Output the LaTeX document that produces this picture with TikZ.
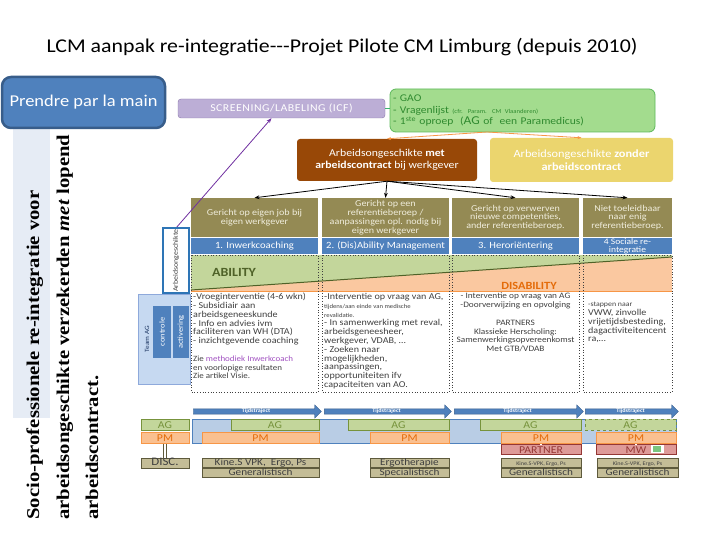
\documentclass[tikz,border=0pt]{standalone}
\usepackage{fontspec}
\setmainfont[FakeStretch=1.12]{Carlito}
\newfontfamily\timesfont[FakeStretch=1.15]{Liberation Serif}
\usetikzlibrary{arrows.meta,shapes.arrows}
\definecolor{blauw}{HTML}{4F81BD}
\definecolor{donkerblauw}{HTML}{385D8A}
\definecolor{lichtblauw}{HTML}{B9CDE5}
\definecolor{bandblauw}{HTML}{E6ECF5}
\definecolor{teamfill}{HTML}{C6D9F1}
\definecolor{teamrand}{HTML}{8EA9DB}
\definecolor{teamtekst}{HTML}{1F3864}
\definecolor{olijf}{HTML}{948A54}
\definecolor{olijftekst}{HTML}{F0EDDC}
\definecolor{bruin}{HTML}{984807}
\definecolor{geel}{HTML}{EBD56E}
\definecolor{lila}{HTML}{BCAED6}
\definecolor{lilarand}{HTML}{8A76AA}
\definecolor{gaofill}{HTML}{A3DC8E}
\definecolor{gaorand}{HTML}{5DB85A}
\definecolor{gaotekst}{HTML}{2F8A2F}
\definecolor{groenlijn}{HTML}{3CB371}
\definecolor{oranjepijl}{HTML}{F79646}
\definecolor{abilgroen}{HTML}{C3D69B}
\definecolor{abiloranje}{HTML}{FAC8A0}
\definecolor{abillijn}{HTML}{4F6228}
\definecolor{disabtekst}{HTML}{E46C0A}
\definecolor{agfill}{HTML}{C3D69B}
\definecolor{agrand}{HTML}{77933C}
\definecolor{pmfill}{HTML}{FAC090}
\definecolor{pmrand}{HTML}{F79646}
\definecolor{partnerfill}{HTML}{DE9A98}
\definecolor{partnerrand}{HTML}{953735}
\definecolor{tanfill}{HTML}{C4BD97}
\definecolor{tanrand}{HTML}{5E5A3C}
\definecolor{tantekst}{HTML}{3F3F3F}
\definecolor{tekst}{HTML}{404040}
\definecolor{paars}{HTML}{7030A0}
\definecolor{paarstekst}{HTML}{A050C0}
\definecolor{arbrand}{HTML}{2E75B6}
\definecolor{hoofdrand}{HTML}{385D8A}
\definecolor{icoongroen}{HTML}{7BC47F}
\begin{document}
\begin{tikzpicture}[x=1pt,y=-1pt,
  every node/.style={inner sep=0pt},
  doel/.style={fill=olijf, text=olijftekst, minimum height=39pt, align=center, font=\fontsize{9}{8.8}\selectfont},
  fase/.style={fill=blauw, text=white, minimum height=16pt, align=center, font=\fontsize{9.5}{9.5}\selectfont},
  kolom/.style={align=left, text=tekst, font=\fontsize{9}{8.8}\selectfont},
  kader/.style={dotted, draw=tekst, line width=0.7pt},
  tijd/.style={single arrow, single arrow head extend=4pt, single arrow head indent=0pt, minimum width=8pt, fill=blauw, draw=donkerblauw, line width=0.4pt, text=white, font=\fontsize{5.5}{5.5}\selectfont\bfseries},
  ag/.style={fill=agfill, draw=agrand, text=agrand, minimum height=11pt, line width=1pt, text height=7pt, text depth=0pt, font=\fontsize{10.5}{10.5}\selectfont},
  pm/.style={fill=pmfill, draw=pmrand, text=disabtekst, minimum height=11pt, line width=1pt, text height=7pt, text depth=0pt, font=\fontsize{10.5}{10.5}\selectfont},
  partner/.style={fill=partnerfill, draw=partnerrand, text=partnerrand, minimum height=10pt, line width=1pt, text height=7pt, text depth=0pt, font=\fontsize{10.5}{10.5}\selectfont},
  dienst/.style={fill=tanfill, draw=tanrand, text=tantekst, minimum height=9pt, line width=0.8pt, text height=6.5pt, text depth=1pt, font=\fontsize{10}{10}\selectfont},
]
\useasboundingbox (0,0) rectangle (720,540);

% titel
\node[font=\fontsize{19.5}{19.5}\selectfont] (titel) at (342,47) {LCM aanpak re-integratie-{}-{}-Projet Pilote CM Limburg (depuis 2010)};

% linkerkant
\fill[bandblauw] (13,129) rectangle (50,418);
\node[draw=hoofdrand, line width=2.5pt, fill=blauw, rounded corners=9pt, minimum width=163pt, minimum height=51pt, text=white, font=\fontsize{16.5}{16.5}\selectfont] (hand) at (83.5,102.5) {Prendre par la main};
\node[rotate=90, anchor=base west, font=\timesfont\fontsize{18}{18}\selectfont\bfseries] (socio1) at (39,520) {Socio-professionele re-integratie voor};
\node[rotate=90, anchor=base west, font=\timesfont\fontsize{18}{18}\selectfont\bfseries] (socio2) at (69,520) {arbeidsongeschikte verzekerden \textit{met} lopend};
\node[rotate=90, anchor=base west, font=\timesfont\fontsize{18}{18}\selectfont\bfseries] (socio3) at (98,520) {arbeidscontract.};

% screening en GAO
\node[draw=lilarand, fill=lila, rounded corners=3pt, minimum width=207pt, minimum height=19pt, text=white, font=\fontsize{10.5}{10.5}\selectfont\addfontfeature{LetterSpace=5}] (screen) at (281.5,108.5) {SCREENING/LABELING (ICF)};
\node[draw=gaorand, fill=gaofill, line width=0.8pt, rounded corners=6pt, minimum width=265pt, minimum height=43pt, text width=259pt, align=left, text=gaotekst, font=\fontsize{10.3}{11.8}\selectfont] (gao) at (522.5,110.5) {- GAO\\- Vragenlijst {\fontsize{6}{11.8}\selectfont(cfr. Param. CM Vlaanderen)}\\- 1\textsuperscript{ste} oproep\ \ ({\fontsize{12}{11.8}\selectfont AG} of\ \ een Paramedicus)};
\draw[groenlijn, line width=1.5pt] (screen.east) -- (screen.east -| gao.west);

% met / zonder contract
\node[fill=bruin, rounded corners=3pt, minimum width=180pt, minimum height=42pt, text=white, align=center, font=\fontsize{10.5}{12.5}\selectfont] (met) at (387,160) {Arbeidsongeschikte \textbf{met}\\\textbf{arbeidscontract} bij werkgever};
\node[fill=geel, rounded corners=3pt, minimum width=183pt, minimum height=44pt, text=white, align=center, font=\fontsize{11}{12.5}\selectfont] (zonder) at (581.5,160) {Arbeidsongeschikte \textbf{zonder}\\\textbf{arbeidscontract}};
\coordinate (splits) at (487,132);
\draw[oranjepijl, line width=0.8pt, -{Stealth[length=4pt]}] (splits) -- (met.north);
\draw[oranjepijl, line width=0.8pt, -{Stealth[length=4pt]}] (splits) -- (zonder.north);

% doelen
\node[doel, minimum width=127pt] (d1) at (254.5,217.5) {Gericht op eigen job bij\\eigen werkgever};
\node[doel, minimum width=127pt] (d2) at (385.5,217.5) {Gericht op een\\referentieberoep /\\aanpassingen opl. nodig bij\\eigen werkgever};
\node[doel, minimum width=127pt] (d3) at (515.5,217.5) {Gericht op verwerven\\nieuwe competenties,\\ander referentieberoep.};
\node[doel, minimum width=89pt] (d4) at (627.5,217.5) {Niet toeleidbaar\\naar enig\\referentieberoep.};
\draw[line width=0.8pt, -{Stealth[length=5pt]}] (met.south) -- (d1.north);
\draw[line width=0.8pt, -{Stealth[length=5pt]}] (met.south) -- (d2.north);
\draw[line width=0.8pt, -{Stealth[length=5pt]}] (met.south) -- (d3.north);
\draw[line width=0.8pt, -{Stealth[length=5pt]}] (met.south) -- (d4.north);

% fasen
\node[fase, minimum width=127pt] (f1) at (254.5,246) {1. Inwerkcoaching};
\node[fase, minimum width=127pt] (f2) at (385.5,246) {2. (Dis)Ability Management};
\node[fase, minimum width=127pt] (f3) at (515.5,246) {3. Heroriëntering};
\node[fase, minimum width=89pt, font=\fontsize{8.5}{8}\selectfont] (f4) at (627.5,246) {4 Sociale re-\\integratie};

% ability / disability
\fill[abilgroen] (191,255) -- (672,255) -- (672,257) -- (191,290) -- cycle;
\fill[abiloranje] (191,290) -- (672,257) -- (672,291) -- (191,291) -- cycle;
\draw[abillijn, line width=1pt] (191,290) -- (672,257);
\draw[pmrand, line width=1pt] (191,291) -- (672,291);
\node[text=abillijn, font=\fontsize{12.5}{12.5}\selectfont\bfseries] (abil) at (234,272) {ABILITY};
\node[text=disabtekst, font=\fontsize{11}{11}\selectfont\bfseries] (disabil) at (529,285.5) {DISABILITY};

% kolommen
\draw[kader] (191,255) rectangle (318,392);
\draw[kader] (322,255) rectangle (449,392);
\draw[kader] (452,255) rectangle (579,392);
\draw[kader] (583,255) rectangle (672,392);
\node[kolom, anchor=north west] (k1) at (193,293) {-Vroeginterventie (4-6 wkn)\\- Subsidiair aan\\arbeidsgeneeskunde\\- Info en advies ivm\\faciliteren van WH (DTA)\\- inzichtgevende coaching\\[8.8pt]{\fontsize{8}{8.8}\selectfont Zie \textcolor{paarstekst}{methodiek Inwerkcoach}}\\{\fontsize{8}{8.8}\selectfont en voorlopige resultaten}\\{\fontsize{8}{8.8}\selectfont Zie artikel Visie.}};
\node[kolom, anchor=north west] (k2) at (324,293) {-Interventie op vraag van AG,\\{\fontsize{6}{8.8}\selectfont tijdens/aan einde van medische}\\{\fontsize{6}{8.8}\selectfont revalidatie.}\\- In samenwerking met reval,\\arbeidsgeneesheer,\\werkgever, VDAB, \dots\\- Zoeken naar\\mogelijkheden,\\aanpassingen,\\opportuniteiten ifv\\capaciteiten van AO.};
\node[kolom, align=center, anchor=north, font=\fontsize{8.3}{8.8}\selectfont] (k3) at (515.5,293) {- Interventie op vraag van AG\\-Doorverwijzing en opvolging\\[8.8pt]PARTNERS\\Klassieke Herscholing:\\Samenwerkingsopvereenkomst\\Met GTB/VDAB};
\node[kolom, anchor=north west] (k4) at (588,302) {{\fontsize{7}{8.8}\selectfont-stappen naar}\\VWW, zinvolle\\vrijetijdsbesteding,\\dagactiviteitencent\\ra,\dots};

% team AG
\node[fill=teamfill, draw=teamrand, line width=0.6pt, minimum width=52pt, minimum height=90pt] (team) at (164,339) {};
\node[rotate=90, text=teamtekst, font=\fontsize{6.5}{6.5}\selectfont] (teamlabel) at (147,339) {Team AG};
\node[rotate=90, fill=blauw, minimum width=52pt, minimum height=18pt, text=white, font=\fontsize{7.5}{7.5}\selectfont] (controle) at (162,332) {controle};
\node[rotate=90, fill=blauw, minimum width=52pt, minimum height=16pt, text=white, font=\fontsize{7.5}{7.5}\selectfont] (activering) at (181,332) {activering};
\draw[paars, line width=0.8pt, -{Stealth[length=5pt]}] (176,228) -- ([xshift=-10pt]screen.south);
\node[rotate=90, draw=arbrand, line width=1.5pt, fill=white, minimum width=65pt, minimum height=26pt, text=tekst, font=\fontsize{7}{7}\selectfont] (arb) at (176,260.5) {Arbeidsongeschikte};

% tijdstraject
\node[tijd, minimum height=128pt] (tijd1) at (256,411.5) {Tijdstraject};
\node[tijd, minimum height=127pt] (tijd2) at (386.5,411.5) {Tijdstraject};
\node[tijd, minimum height=129pt] (tijd3) at (517.5,411.5) {Tijdstraject};
\node[tijd, minimum height=93pt] (tijd4) at (630.5,411.5) {Tijdstraject};

% AG / PM
\filldraw[fill=lichtblauw, draw=blauw, line width=0.6pt] (192,419) rectangle (676,443);
\node[ag, minimum width=48pt] (agL) at (165,425) {AG};
\node[pm, minimum width=48pt] (pmL) at (165,437.5) {PM};
\node[ag, minimum width=88pt] (ag1) at (275,424.5) {AG};
\node[pm, minimum width=117pt] (pm1) at (260.5,437.5) {PM};
\node[ag, minimum width=101pt] (ag2) at (398.5,424.5) {AG};
\node[pm, minimum width=79pt] (pm2) at (409.5,437.5) {PM};
\node[ag, minimum width=101pt] (ag3) at (530.5,424.5) {AG};
\node[pm, minimum width=80pt] (pm3) at (541,437.5) {PM};
\node[ag, dashed, minimum width=91pt] (ag4) at (630.5,424.5) {AG};
\node[pm, minimum width=80pt] (pm4) at (636,437.5) {PM};
\node[partner, minimum width=80pt] (partner) at (541,449.5) {PARTNER};
\node[partner, minimum width=80pt] (mw) at (636,449.5) {MW};
\draw[partnerrand, double, double distance=1.5pt, line width=0.5pt] (pm3.south) -- (partner.north);
\draw[partnerrand, double, double distance=1.5pt, line width=0.5pt] (pm4.south) -- (mw.north);
\fill[white] (651,444.5) rectangle (664,453);
\fill[icoongroen] (653,446) rectangle (661,451.5);

% diensten
\node[dienst, minimum width=48pt, minimum height=10pt, font=\fontsize{11.5}{11.5}\selectfont] (disc) at (165,463) {DISC.};
\draw[tanrand, double, double distance=2pt, line width=0.6pt] (pmL.south) -- (disc.north);
\node[dienst, minimum width=117pt] (k1d) at (260.5,462.5) {Kine.S VPK,\ \ Ergo, Ps};
\node[dienst, minimum width=117pt] (g1) at (260.5,472.5) {Generalistisch};
\node[dienst, minimum width=79pt] (e2) at (409.5,462.5) {Ergotherapie};
\node[dienst, minimum width=79pt] (s2) at (409.5,472.5) {Specialistisch};
\node[dienst, minimum width=80pt, font=\fontsize{5.5}{5.5}\selectfont] (k3d) at (541,462.5) {Kine.S-VPK, Ergo, Ps};
\node[dienst, minimum width=80pt] (g3) at (541,472.5) {Generalistisch};
\node[dienst, minimum width=81pt, font=\fontsize{5.5}{5.5}\selectfont] (k4d) at (637.5,462.5) {Kine.S-VPK, Ergo, Ps};
\node[dienst, minimum width=81pt] (g4) at (637.5,472.5) {Generalistisch};
\end{tikzpicture}
\end{document}
